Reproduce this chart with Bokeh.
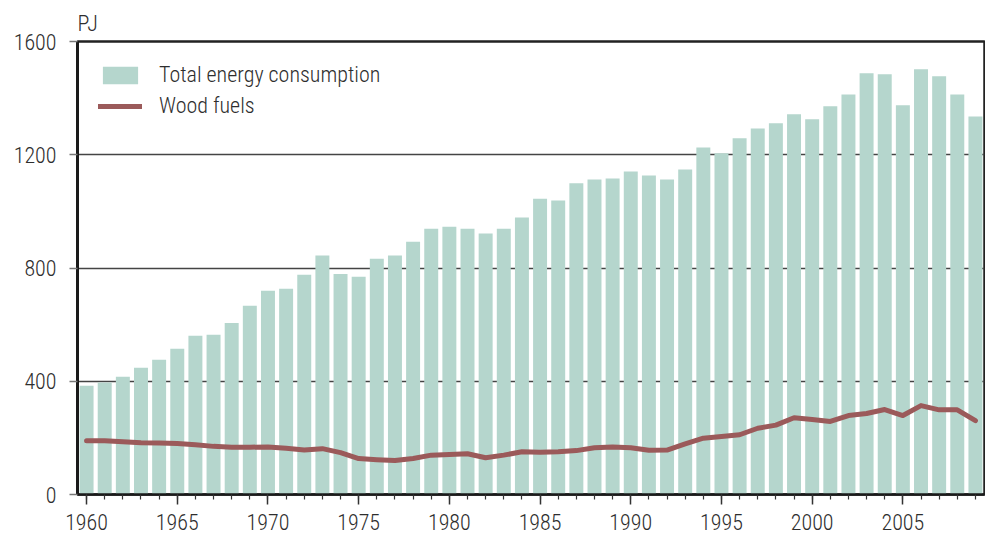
from bokeh.plotting import figure
from bokeh.models import ColumnDataSource, SingleIntervalTicker, FixedTicker, Legend, LegendItem, Range1d
from bokeh.embed import file_html
from bokeh.resources import INLINE

years = list(range(1960, 2010))
total_energy = [384, 396, 416, 448, 476, 515, 561, 564, 606, 667,
                720, 727, 776, 844, 779, 769, 833, 844, 893, 939,
                946, 939, 922, 939, 978, 1045, 1038, 1099, 1113, 1116,
                1141, 1127, 1113, 1148, 1226, 1205, 1258, 1293, 1311, 1343,
                1325, 1371, 1413, 1488, 1484, 1375, 1502, 1477, 1413, 1335]
wood_fuels = [190, 190, 186, 183, 182, 180, 176, 170, 167, 167,
              168, 163, 157, 162, 148, 127, 123, 120, 127, 139,
              141, 144, 130, 139, 151, 149, 151, 155, 165, 168,
              165, 156, 157, 179, 199, 205, 211, 234, 245, 271,
              265, 258, 279, 286, 300, 279, 314, 299, 299, 261]
y_ticks = [0, 400, 800, 1200, 1600]
unit_label = "PJ"
legend_labels = ["Total energy consumption", "Wood fuels"]

FONT = "'Roboto Condensed Light', 'Roboto Condensed', 'Liberation Sans Narrow', Roboto, sans-serif"
TEXT = "#2e2e2e"
BAR = "#b5d6cd"
LINE = "#9b5a5a"

src = ColumnDataSource(dict(year=years, total=total_energy, wood=wood_fuels))

p = figure(width=985, height=537, output_backend="svg", toolbar_location=None,
           x_range=Range1d(1959.5, 2009.5), y_range=Range1d(0, 1600),
           min_border_left=77, min_border_right=1, min_border_top=41, min_border_bottom=43,
           title=unit_label)
p.background_fill_color = "white"
p.border_fill_color = "white"
p.outline_line_color = "#222222"
p.outline_line_width = 2.5

p.title.align = "left"
p.title.offset = 0
p.title.standoff = 11
p.title.text_font = FONT
p.title.text_font_size = "22px"
p.title.text_font_style = "normal"
p.title.text_color = TEXT

bars = p.vbar(x="year", top="total", bottom=0, width=0.77, source=src,
              fill_color=BAR, line_color=None)
line = p.line(x="year", y="wood", source=src, line_color=LINE, line_width=5,
              line_cap="round", line_join="round")

# axes
p.xaxis.ticker = SingleIntervalTicker(interval=5, num_minor_ticks=5)
p.yaxis.ticker = FixedTicker(ticks=y_ticks)
for ax in (p.xaxis[0], p.yaxis[0]):
    ax.major_label_text_font = FONT
    ax.major_label_text_font_size = "22px"
    ax.major_label_text_color = TEXT
    ax.axis_line_color = "#1a1a1a"
p.xaxis.axis_line_width = 2.5
p.yaxis.axis_line_width = 3
p.xaxis.major_tick_out = 10
p.xaxis.major_tick_in = 0
p.xaxis.minor_tick_out = 5
p.xaxis.minor_tick_in = 0
p.xaxis.major_tick_line_color = "#333333"
p.xaxis.minor_tick_line_color = "#333333"
p.xaxis.major_tick_line_width = 1.5
p.xaxis.minor_tick_line_width = 1.2
p.xaxis.major_label_standoff = 9
p.yaxis.major_tick_out = 8
p.yaxis.major_tick_in = 0
p.yaxis.minor_tick_line_color = None
p.yaxis.major_tick_line_color = "#777777"
p.yaxis.major_tick_line_width = 1.5
p.yaxis.major_label_standoff = 13

p.xgrid.grid_line_color = None
p.ygrid.grid_line_color = "#444444"
p.ygrid.grid_line_width = 1.3

legend = Legend(items=[LegendItem(label=legend_labels[0], renderers=[bars]),
                       LegendItem(label=legend_labels[1], renderers=[line])],
                location="top_left", orientation="vertical")
legend.margin = 21
legend.padding = 0
legend.spacing = 6
legend.glyph_width = 44
legend.glyph_height = 22
legend.label_height = 22
legend.label_standoff = 17
legend.label_text_font = FONT
legend.label_text_font_size = "22px"
legend.label_text_color = TEXT
legend.border_line_color = None
legend.background_fill_alpha = 0
p.add_layout(legend)

open("out.html", "w").write(file_html(p, INLINE))
